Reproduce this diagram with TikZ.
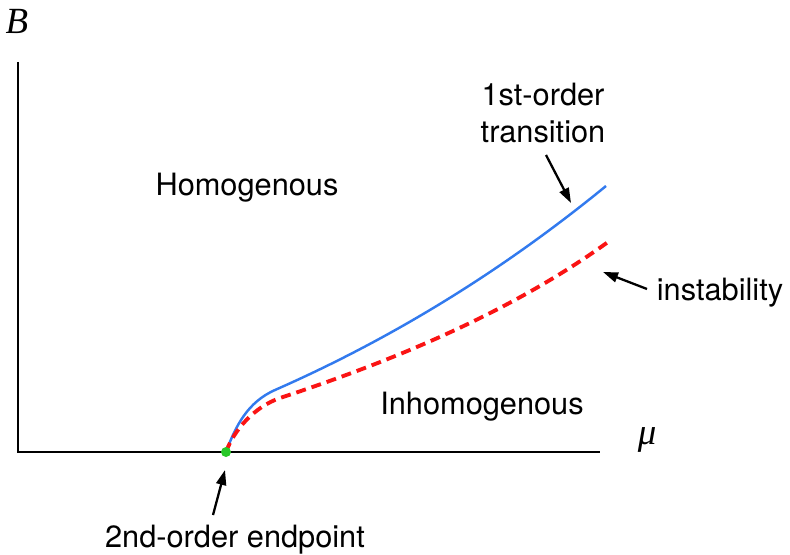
\documentclass[tikz,border=0pt]{standalone}
\usepackage{fontspec}
\setmainfont{TeX Gyre Heros}
\newfontfamily\axisfont{Liberation Serif}
\usepackage{tikz}
\usetikzlibrary{calc, positioning, arrows.meta}
\usepackage{xcolor}
\definecolor{phaseblue}{RGB}{50, 122, 238}
\definecolor{phasered}{RGB}{250, 20, 20}
\definecolor{phasegreen}{RGB}{40, 200, 40}
\tikzset{
    axisline/.style={line width=1.6pt, black},
    firstline/.style={line width=1.4pt, draw=phaseblue},
    spinline/.style={line width=2.2pt, draw=phasered, dash pattern=on 0.2cm off 0.12cm},
    pointer/.style={-{Triangle[length=0.3cm, width=0.2cm]}, line width=1.3pt},
    regionlabel/.style={font=\fontsize{17.5}{21}\selectfont, align=center},
    axislabel/.style={font=\axisfont\itshape\fontsize{21}{24}\selectfont}
}

\begin{document}
\begin{tikzpicture}[x=0.02cm, y=-0.02cm]
            \useasboundingbox (0,0) rectangle (790,554);

            % Axes
            \coordinate (origin) at (18,452);
            \coordinate (ytop) at (18,62);
            \coordinate (xend) at (600,452);
            \draw[axisline] (ytop) -- (origin) -- (xend);
            \node[axislabel] (Blabel) at (17,21) {B};
            \node[axislabel] (mulabel) at (647,440) {μ};

            % Phase boundaries
            \coordinate (tcp) at (226,452);
            \draw[firstline] (tcp) .. controls (236,425) and (248,402) .. (275,390)
                .. controls (385,341.6) and (496,276) .. (606,186);
            \draw[spinline] (tcp) .. controls (234,430) and (254,407) .. (280,398)
                .. controls (390,361.7) and (508,314) .. (608,242);
            \node[circle, fill=phasegreen, inner sep=0pt, minimum size=0.2cm] (endpoint) at (tcp) {};

            % Labels
            \node[regionlabel] (homog) at (247,188) {Homogenous};
            \node[regionlabel] (inhomog) at (482,407) {Inhomogenous};
            \node[regionlabel] (firstorder) at (543,113) {1st-order\\transition};
            \node[regionlabel] (instab) at (720,293) {instability};
            \node[regionlabel] (secondorder) at (235,540) {2nd-order endpoint};

            % Pointers
            \coordinate (fotail) at (546,155);
            \coordinate (fotip) at (571,203);
            \coordinate (intail) at (647,289);
            \coordinate (intip) at (603,272);
            \coordinate (sotail) at (213,515);
            \coordinate (sotip) at (225,470);
            \draw[pointer] (fotail) -- (fotip);
            \draw[pointer] (intail) -- (intip);
            \draw[pointer] (sotail) -- (sotip);
        \end{tikzpicture}
\end{document}
